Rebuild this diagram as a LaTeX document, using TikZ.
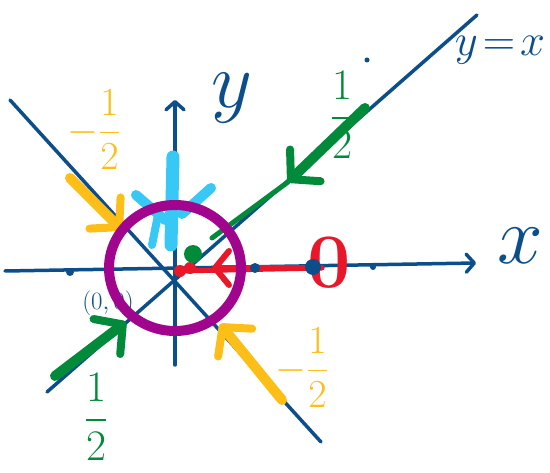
\documentclass[tikz,border=0pt]{standalone}
\usepackage{amsmath}
\usepackage{tikz}
\usetikzlibrary{arrows.meta}
\definecolor{axblue}{RGB}{12,78,138}
\definecolor{hlyellow}{RGB}{253,190,24}
\definecolor{hlgreen}{RGB}{0,138,58}
\definecolor{hlred}{RGB}{232,23,42}
\definecolor{hlpurple}{RGB}{161,5,141}
\definecolor{hlcyan}{RGB}{55,200,245}

\begin{document}
\begin{tikzpicture}[x=1pt,y=-1pt,line cap=round,line join=round,
  axis/.style={axblue,line width=3.5pt},
  fat arrow/.style={line width=10pt,-{Straight Barb[length=20pt,width=44pt,line width=8pt,round]}},
  lbl/.style={font=\Huge,inner sep=0pt}]
\useasboundingbox (0,0) rectangle (550,473);

% axes and the two diagonals
\coordinate (O) at (175,268);
\coordinate (xa) at (5,271);
\coordinate (xb) at (476,263);
\coordinate (ya) at (175,365);
\coordinate (yb) at (175,100);
\coordinate (da) at (47,392);
\coordinate (db) at (477,15);
\coordinate (ea) at (10,100);
\coordinate (eb) at (321,442);
\draw[axis,-{Straight Barb[length=8pt,width=18pt,round]}] (xa) -- (xb);
\draw[axis,-{Straight Barb[length=8pt,width=18pt,round]}] (ya) -- (yb);
\draw[axis] (da) -- (db);
\draw[axis] (ea) -- (eb);

\node[lbl,axblue,scale=3.3] (xl) at (520,246) {$x$};
\node[lbl,axblue,scale=3.2] (yl) at (232,98) {$y$};
\node[lbl,axblue,scale=1.8] (dl) at (500,50) {$y\!=\!x$};
\node[lbl,axblue,font=\huge,scale=1.2] (ol) at (108,303) {$(0,0)$};

% flows along the eigen-directions
\coordinate (g1) at (365,108);
\coordinate (g2) at (288,182);
\coordinate (g3) at (212,238);
\draw[hlgreen,fat arrow] (g1) -- (g2);
\draw[hlgreen,line width=5pt] (g2) -- (g3);
\coordinate (g4) at (55,376);
\coordinate (g5) at (126,322);
\draw[hlgreen,fat arrow] (g4) -- (g5);
\coordinate (y1) at (70,178);
\coordinate (y2) at (122,230);
\draw[hlyellow,fat arrow] (y1) -- (y2);
\coordinate (y3) at (282,400);
\coordinate (y4) at (220,324);
\draw[hlyellow,fat arrow] (y3) -- (y4);

\node[lbl,hlgreen,scale=1.75] (g1l) at (342,115) {$\dfrac{1}{2}$};
\node[lbl,hlgreen,scale=1.75] (g2l) at (96,417) {$\dfrac{1}{2}$};
\node[lbl,hlyellow,scale=1.6] (y1l) at (94,130) {$-\dfrac{1}{2}$};
\node[lbl,hlyellow,scale=1.6] (y2l) at (302,368) {$-\dfrac{1}{2}$};

% cyan burst on the y-axis
\draw[hlcyan,line width=13pt] (173,157) -- (171,245);
\draw[hlcyan,line width=10pt] (136,195) -- (165,220);
\draw[hlcyan,line width=10pt] (211,188) -- (182,214);
\draw[hlcyan,line width=8pt] (158,215) -- (152,245);

% red flow on the x-axis
\coordinate (r1) at (322,268);
\coordinate (r2) at (212,268);
\coordinate (r3) at (180,271);
\draw[hlred,line width=5pt] (r1) -- (r3);
\draw[hlred,line width=5pt,-{Straight Barb[length=14pt,width=34pt,line width=6pt,round]}] (r1) -- (r2);
\fill[hlred] (r3) circle[radius=6];
\fill[hlred] (190,268) circle[radius=6];
\node[lbl,hlred,font=\Huge\bfseries,scale=3.1] (zl) at (329,263) {0};

% points on the x-axis
\foreach \p/\r in {(70,272)/4,(255,268)/5,(313,267)/8,(373,267)/3}
  \fill[axblue] \p circle[radius=\r];
\fill[axblue] (367,60) circle[radius=2.5];
\fill[hlgreen] (193,254) circle[radius=9];

% ring round the origin
\draw[hlpurple,line width=10pt] (O) circle[x radius=66,y radius=63];
\end{tikzpicture}
\end{document}
